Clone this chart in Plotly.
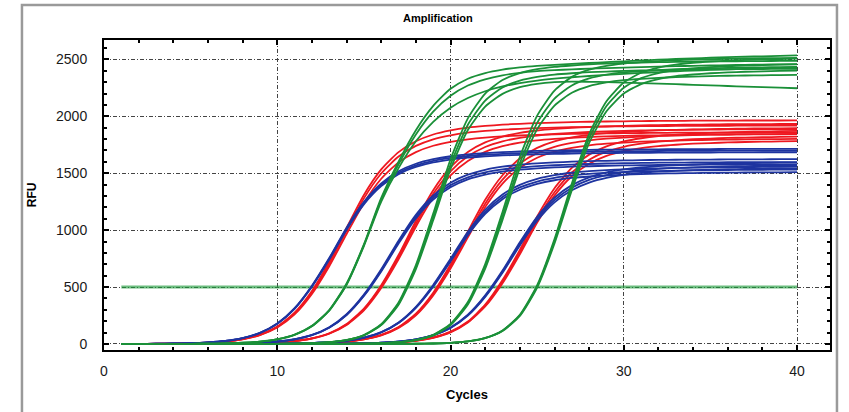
import plotly.graph_objects as go

# ---------------- data (RFU per cycle) ----------------
cycles = list(range(1, 41))
threshold_cycles = [1, 40]
threshold_rfu = [500, 500]

red_dil1 = [
    [0,1,2,3,6,12,22,43,82,153,275,465,722,1020,1309,1533,1685,1780,1840,1876,1900,1915,1926,1934,1940,1945,1949,1952,1954,1956,1958,1959,1960,1961,1962,1962,1963,1963,1963,1964],
    [0,1,2,3,6,11,22,42,80,149,268,454,705,997,1279,1497,1646,1740,1798,1833,1856,1871,1882,1890,1896,1901,1904,1907,1910,1912,1913,1914,1915,1916,1917,1917,1918,1918,1918,1919],
    [0,1,1,3,6,11,21,41,78,145,260,440,683,966,1239,1451,1595,1685,1741,1776,1798,1813,1823,1831,1837,1841,1845,1848,1850,1852,1853,1854,1856,1856,1857,1857,1858,1858,1859,1859],
]
red_dil2 = [
    [0,0,0,0,0,1,2,3,7,14,26,50,94,175,311,516,781,1080,1351,1553,1687,1771,1822,1854,1875,1889,1899,1906,1912,1916,1920,1923,1925,1927,1928,1930,1931,1931,1932,1932],
    [0,0,0,0,0,1,2,3,7,13,26,49,92,171,303,504,762,1055,1319,1517,1648,1730,1780,1811,1831,1845,1855,1862,1867,1872,1875,1878,1880,1882,1883,1885,1886,1886,1887,1888],
    [0,0,0,0,0,1,2,3,7,13,25,48,90,167,296,492,744,1030,1288,1481,1608,1688,1737,1768,1788,1801,1811,1818,1823,1827,1831,1833,1835,1837,1839,1840,1841,1841,1842,1843],
]
red_dil3 = [
    [0,0,0,0,0,0,0,0,1,2,3,6,11,22,42,79,148,266,450,698,987,1266,1482,1629,1722,1779,1814,1837,1852,1862,1870,1876,1881,1884,1887,1890,1892,1893,1894,1895],
    [0,0,0,0,0,0,0,0,1,1,3,6,11,21,41,77,144,259,438,680,961,1232,1443,1586,1676,1732,1766,1788,1803,1813,1821,1827,1831,1835,1838,1840,1842,1843,1844,1846],
    [0,0,0,0,0,0,0,0,1,1,3,6,11,21,40,75,140,252,427,663,937,1202,1408,1547,1636,1690,1723,1745,1759,1769,1777,1782,1787,1790,1793,1795,1797,1799,1800,1801],
]
red_dil4 = [
    [0,0,0,0,0,0,0,0,0,0,0,1,1,2,4,8,15,30,57,108,197,345,561,827,1120,1368,1547,1663,1735,1779,1807,1826,1838,1847,1854,1859,1863,1866,1869,1871],
    [0,0,0,0,0,0,0,0,0,0,0,1,1,2,4,8,15,29,55,105,192,336,546,805,1091,1332,1506,1619,1689,1732,1759,1777,1789,1798,1804,1810,1813,1816,1819,1821],
    [0,0,0,0,0,0,0,0,0,0,0,1,1,2,4,8,15,28,54,102,188,329,534,788,1067,1303,1473,1583,1652,1694,1721,1738,1750,1759,1765,1770,1774,1777,1779,1781],
]

blue_dil1 = [
    [1,1,2,4,7,14,27,52,98,180,315,512,755,1022,1248,1411,1517,1583,1623,1649,1665,1677,1685,1691,1696,1699,1702,1705,1707,1708,1709,1710,1711,1712,1712,1713,1713,1714,1714,1714],
    [1,1,2,4,7,14,27,52,97,178,312,507,748,1013,1237,1399,1504,1569,1609,1634,1651,1662,1670,1676,1681,1685,1687,1690,1692,1693,1694,1695,1696,1697,1697,1698,1698,1699,1699,1699],
    [1,1,2,4,7,14,27,51,96,177,309,503,741,1004,1226,1386,1491,1555,1595,1620,1636,1648,1656,1661,1666,1670,1672,1675,1677,1678,1679,1680,1681,1682,1682,1683,1683,1684,1684,1684],
]
blue_dil2 = [
    [0,0,0,0,1,1,3,6,11,22,42,79,147,261,433,656,907,1134,1304,1417,1487,1530,1557,1574,1586,1595,1601,1606,1609,1612,1615,1617,1618,1619,1620,1621,1622,1622,1623,1623],
    [0,0,0,0,1,1,3,6,11,22,41,78,145,257,427,645,893,1117,1284,1395,1464,1507,1533,1550,1562,1570,1576,1581,1585,1588,1590,1592,1593,1594,1595,1596,1597,1597,1598,1598],
    [0,0,0,0,1,1,3,6,11,21,41,77,143,254,421,637,882,1103,1268,1377,1446,1488,1514,1531,1543,1551,1557,1561,1565,1568,1570,1572,1573,1574,1576,1576,1577,1577,1578,1578],
]
blue_dil3 = [
    [0,0,0,0,0,0,0,0,1,2,4,8,15,29,56,104,189,326,518,748,986,1178,1312,1398,1451,1483,1504,1518,1527,1534,1539,1543,1546,1549,1551,1553,1554,1555,1556,1557],
    [0,0,0,0,0,0,0,0,1,2,4,8,15,29,55,103,186,321,510,737,970,1159,1291,1375,1427,1459,1480,1494,1503,1510,1515,1519,1522,1524,1526,1528,1529,1530,1531,1532],
    [0,0,0,0,0,0,0,0,1,2,4,8,15,28,54,101,183,316,502,725,955,1142,1272,1355,1406,1438,1458,1471,1480,1487,1492,1496,1499,1501,1503,1505,1506,1507,1508,1509],
]
blue_dil4 = [
    [0,0,0,0,0,0,0,0,0,0,0,1,1,3,6,11,22,41,78,145,257,427,645,893,1117,1284,1395,1464,1507,1533,1550,1562,1570,1576,1581,1585,1588,1590,1592,1593],
    [0,0,0,0,0,0,0,0,0,0,0,1,1,3,6,11,21,41,77,143,253,420,635,879,1099,1264,1373,1441,1483,1509,1526,1538,1546,1552,1556,1560,1563,1565,1567,1568],
    [0,0,0,0,0,0,0,0,0,0,0,1,1,3,6,11,21,40,76,140,249,413,625,865,1082,1244,1351,1418,1459,1485,1502,1513,1521,1527,1532,1535,1538,1540,1542,1543],
]

green_dil1 = [
    [0,0,0,1,1,3,5,11,21,42,82,159,298,531,875,1283,1602,1878,2091,2241,2330,2380,2410,2430,2443,2452,2460,2468,2476,2483,2490,2497,2503,2509,2514,2519,2523,2527,2531,2535],
    [0,0,0,1,1,3,5,10,20,40,80,155,292,520,860,1250,1545,1780,1950,2075,2160,2220,2262,2292,2314,2330,2343,2354,2364,2373,2381,2388,2395,2401,2407,2412,2417,2421,2425,2429],
    [0,0,0,1,1,3,5,11,21,41,81,157,295,525,868,1268,1578,1840,2040,2180,2270,2325,2360,2382,2396,2405,2412,2418,2423,2428,2432,2436,2440,2443,2446,2449,2452,2454,2456,2458],
]
green_dil2 = [
    [0,0,0,0,0,0,0,0,0,1,3,7,15,35,79,174,364,694,1145,1622,1982,2200,2318,2380,2414,2434,2446,2456,2463,2468,2472,2475,2478,2480,2482,2483,2484,2485,2486,2487],
    [0,0,0,0,0,0,0,0,0,1,3,7,15,34,76,169,354,674,1113,1576,1926,2138,2253,2313,2346,2366,2378,2387,2393,2398,2402,2405,2408,2410,2412,2413,2414,2415,2416,2417],
    [0,0,0,0,0,0,0,0,0,1,3,6,15,33,75,165,345,658,1086,1537,1879,2085,2197,2256,2285,2300,2305,2303,2300,2296,2292,2287,2282,2276,2271,2266,2261,2256,2251,2246],
]
green_dil3 = [
    [0,0,0,0,0,0,0,0,0,0,0,0,0,2,3,7,16,36,80,176,368,702,1159,1642,2006,2226,2346,2409,2443,2463,2476,2485,2492,2497,2501,2505,2507,2510,2511,2513],
    [0,0,0,0,0,0,0,0,0,0,0,0,0,1,3,7,15,34,77,170,357,680,1122,1589,1942,2156,2271,2332,2365,2385,2397,2406,2413,2418,2422,2425,2428,2430,2432,2433],
    [0,0,0,0,0,0,0,0,0,0,0,0,0,1,3,6,15,33,75,165,346,661,1090,1544,1887,2094,2206,2265,2297,2317,2329,2337,2344,2349,2352,2356,2358,2360,2362,2363],
]
green_dil4 = [
    [0,0,0,0,0,0,0,0,0,0,0,0,0,0,0,0,1,2,4,10,23,53,119,257,516,921,1409,1843,2132,2296,2382,2428,2454,2470,2481,2489,2495,2500,2503,2506],
    [0,0,0,0,0,0,0,0,0,0,0,0,0,0,0,0,1,2,4,10,23,52,117,251,506,903,1381,1806,2090,2250,2335,2380,2406,2421,2432,2439,2445,2450,2453,2456],
    [0,0,0,0,0,0,0,0,0,0,0,0,0,0,0,0,1,2,4,10,22,51,114,246,495,883,1350,1766,2044,2200,2283,2327,2352,2367,2378,2385,2391,2395,2399,2402],
]

x_ticks = [0, 10, 20, 30, 40]
y_ticks = [0, 500, 1000, 1500, 2000, 2500]

# ---------------- styling ----------------
RED = "rgb(238,24,32)"
BLUE = "rgb(30,52,160)"
GREEN = "rgb(26,144,56)"
FONT = "Liberation Sans, Arial, sans-serif"

fig = go.Figure()

fig.add_trace(go.Scatter(
    x=threshold_cycles, y=threshold_rfu, mode="lines",
    line=dict(color="rgba(30,155,60,0.65)", width=3),
    hoverinfo="skip", showlegend=False))

groups = [(RED, red_dil1 + red_dil2 + red_dil3 + red_dil4),
          (BLUE, blue_dil1 + blue_dil2 + blue_dil3 + blue_dil4),
          (GREEN, green_dil1 + green_dil2 + green_dil3 + green_dil4)]
for color, curves in groups:
    for curve in curves:
        fig.add_trace(go.Scatter(
            x=cycles, y=curve, mode="lines",
            line=dict(color=color, width=1.8, shape="spline", smoothing=0.6),
            hoverinfo="skip", showlegend=False))

grid_dash = "4px,2px,1px,2px"
axis_common = dict(
    showgrid=True, gridcolor="#444", gridwidth=1, griddash=grid_dash,
    showline=True, linecolor="black", linewidth=2, mirror="ticks",
    ticks="inside", ticklen=5, tickwidth=1.5, tickcolor="black",
    zeroline=False, tickfont=dict(family=FONT, size=14, color="#1a1a1a"))
fig.update_xaxes(
    range=[0, 41.9], tickvals=x_ticks, ticktext=[str(v) for v in x_ticks],
    minor=dict(dtick=2, tick0=0, ticks="inside", ticklen=3, tickwidth=1.5,
               tickcolor="black", showgrid=False),
    ticklabelstandoff=7, **axis_common)
fig.update_yaxes(
    range=[-53, 2670], tickvals=y_ticks, ticktext=[str(v) for v in y_ticks],
    minor=dict(dtick=100, tick0=0, ticks="inside", ticklen=3, tickwidth=1.5,
               tickcolor="black", showgrid=False),
    ticklabelstandoff=12, **axis_common)

fig.update_layout(
    width=849, height=412,
    margin=dict(l=104, r=19, t=40, b=62),
    paper_bgcolor="white", plot_bgcolor="white",
    showlegend=False,
    annotations=[
        dict(text="<b>Amplification</b>", x=0.46, y=1.071, xref="paper", yref="paper",
             xanchor="center", yanchor="middle",
             showarrow=False, font=dict(family=FONT, size=11, color="black")),
        dict(text="<b>Cycles</b>", x=0.5, y=-0.145, xref="paper", yref="paper",
             xanchor="center", yanchor="middle",
             showarrow=False, font=dict(family=FONT, size=13, color="black")),
        dict(text="<b>RFU</b>", x=-0.099, y=0.5, xref="paper", yref="paper",
             xanchor="center", yanchor="middle",
             showarrow=False, textangle=-90, font=dict(family=FONT, size=12, color="black")),
    ],
    shapes=[
        dict(type="rect", xref="paper", yref="paper", x0=-0.113, x1=1.0096,
             y0=-0.3, y1=1.113, line=dict(color="#9a9a9a", width=2.5),
             fillcolor="rgba(0,0,0,0)", layer="below"),
    ],
)

fig.write_html("out.html", config={"displayModeBar": False},
               post_script="document.body.style.margin='0px';document.body.style.padding='0px';")
